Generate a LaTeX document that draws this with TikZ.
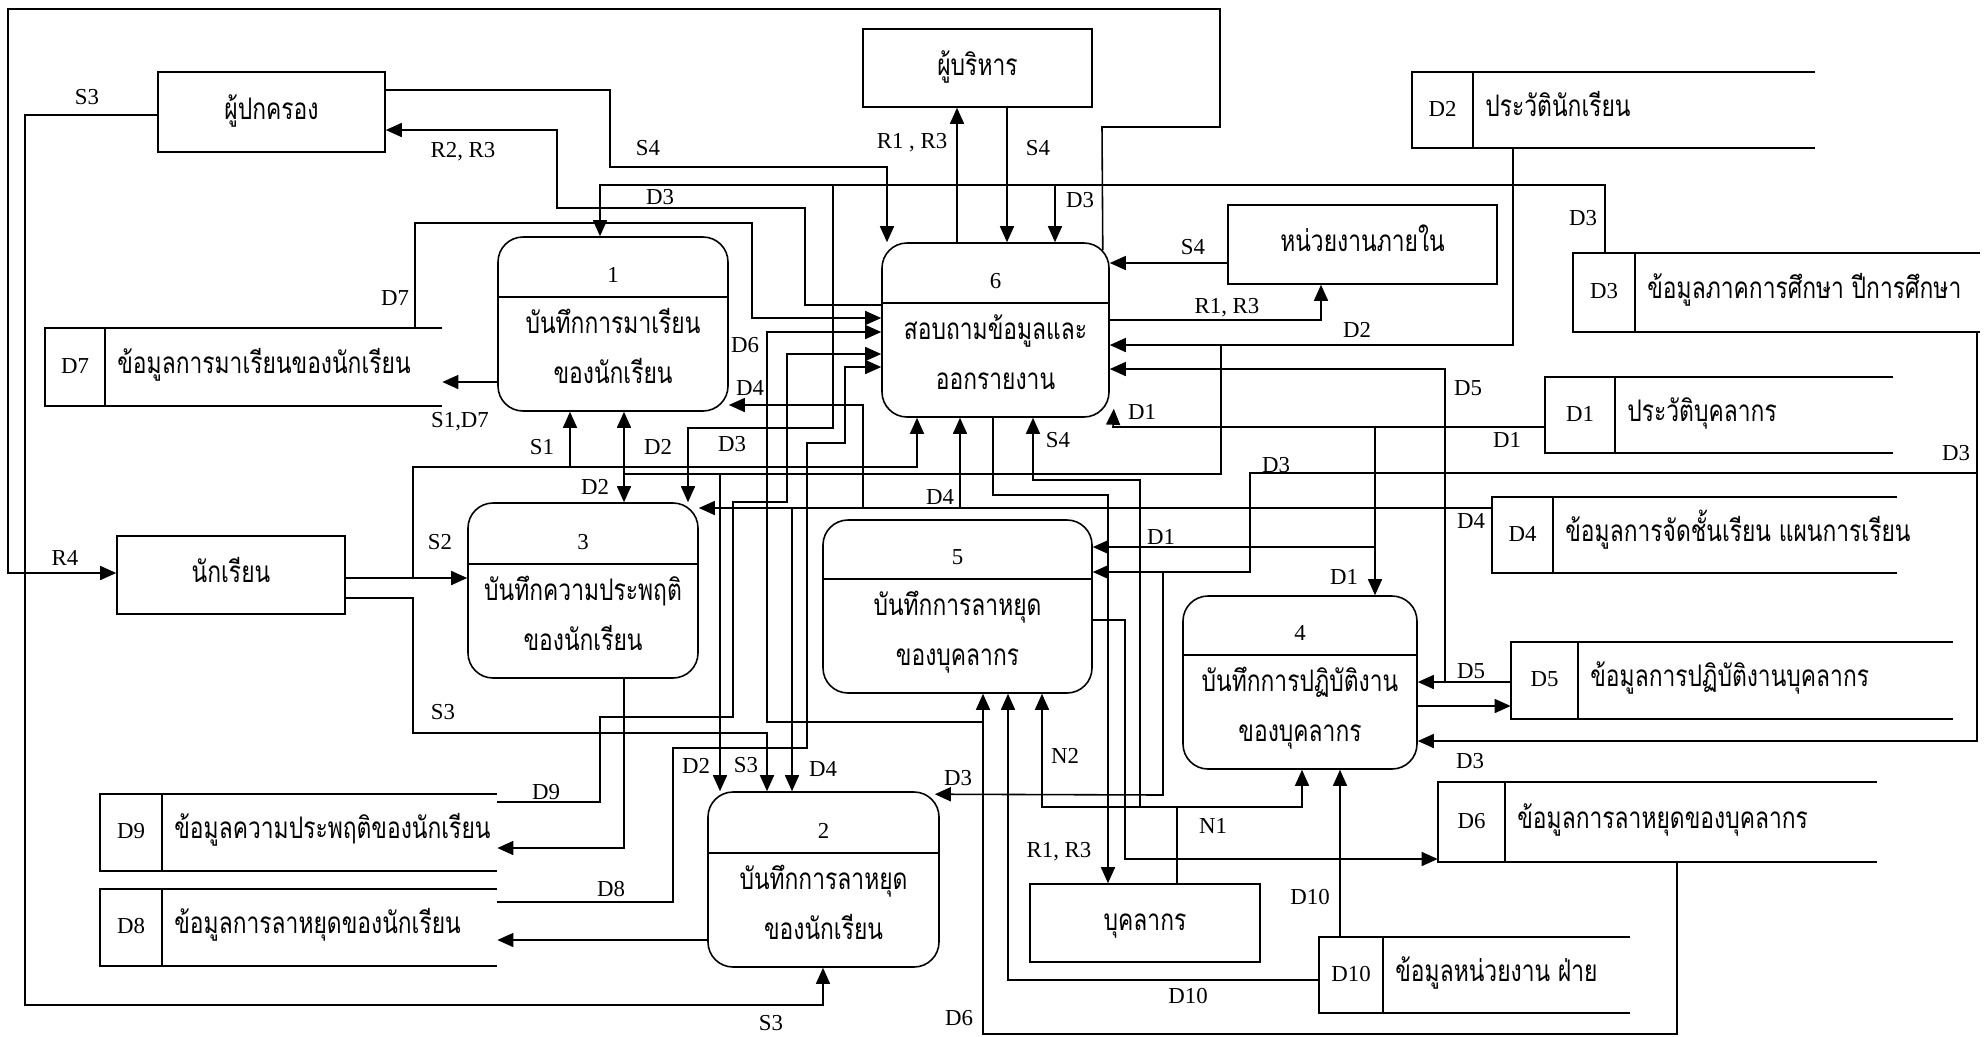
\documentclass[tikz,border=0pt]{standalone}
\usepackage{fontspec}
\setmainfont{Liberation Serif}
\newfontfamily\thaifont[Script=Thai]{Loma}
\usetikzlibrary{arrows.meta, fit, calc}
\tikzset{
  flow/.style={-{Triangle[length=3.2mm, width=2.8mm]}, line width=0.9pt},
  flowboth/.style={{Triangle[length=3.2mm, width=2.8mm]}-{Triangle[length=3.2mm, width=2.8mm]}, line width=0.9pt},
  plain/.style={line width=0.9pt},
  entity/.style={draw, line width=0.9pt, inner sep=0pt},
  proc/.style={draw, line width=0.9pt, rounded corners=5mm, inner sep=0pt},
  lbl/.style={inner sep=1pt, font=\fontsize{13}{15}\selectfont},
  thbase/.style={anchor=base, inner sep=0pt, font=\fontsize{13}{15}\selectfont}
}
% Thai text, a little taller than Loma sets it
\newcommand{\thai}[1]{\scalebox{1}[1.3]{\thaifont #1}}
% process: name, left, top, right, bottom, divider y, number, line 1, line 2
\newcommand{\dproc}[9]{%
  \node[proc, fit={(#2,#3) (#4,#5)}] (#1) {};
  \draw[plain] (#2,#6) -- (#4,#6);
  \node[thbase] (#1-num) at ({(#2+#4)/2},{#6-15}) {#7};
  \node[thbase] (#1-txt) at ({(#2+#4)/2},{#6+36}) {\thai{#8}};
  \node[thbase] (#1-txtb) at ({(#2+#4)/2},{#6+86}) {\thai{#9}};
}
% data store: name, left, divider x, right, top, bottom, id, text
\newcommand{\dstore}[8]{%
  \node[fit={(#2,#5) (#4,#6)}, inner sep=0pt] (#1) {};
  \draw[plain] (#4,#5) -- (#2,#5) -- (#2,#6) -- (#4,#6);
  \draw[plain] (#3,#5) -- (#3,#6);
  \node[thbase] (#1-id) at ({(#2+#3)/2},{(#5+#6)/2+6}) {#7};
  \node[thbase, anchor=base west] (#1-txt) at ({#3+12},{(#5+#6)/2+6}) {\thai{#8}};
}

\begin{document}
\begin{tikzpicture}[x=0.02cm, y=-0.02cm]
  \useasboundingbox (0,0) rectangle (1985,1036);

  %% --- external entities ---
  \node[entity, fit={(158,72) (385,152)}]   (par) {};
  \node[entity, fit={(863,29) (1092,107)}]  (exe) {};
  \node[entity, fit={(1228,205) (1497,284)}] (inu) {};
  \node[entity, fit={(117,536) (345,614)}]  (std) {};
  \node[entity, fit={(1030,884) (1260,962)}] (per) {};
  \node[thbase] (par-txt) at ($(par.center)+(0,7)$) {\thai{ผู้ปกครอง}};
  \node[thbase] (exe-txt) at ($(exe.center)+(0,7)$) {\thai{ผู้บริหาร}};
  \node[thbase] (inu-txt) at ($(inu.center)+(0,7)$) {\thai{หน่วยงานภายใน}};
  \node[thbase] (std-txt) at ($(std.center)+(0,7)$) {\thai{นักเรียน}};
  \node[thbase] (per-txt) at ($(per.center)+(0,7)$) {\thai{บุคลากร}};

  %% --- processes ---
  \dproc{p1}{498}{237}{728}{411}{297}{1}{บันทึกการมาเรียน}{ของนักเรียน}
  \dproc{p6}{882}{243}{1109}{417}{303}{6}{สอบถามข้อมูลและ}{ออกรายงาน}
  \dproc{p3}{468}{503}{698}{678}{564}{3}{บันทึกความประพฤติ}{ของนักเรียน}
  \dproc{p5}{823}{520}{1092}{693}{579}{5}{บันทึกการลาหยุด}{ของบุคลากร}
  \dproc{p4}{1183}{596}{1417}{769}{655}{4}{บันทึกการปฏิบัติงาน}{ของบุคลากร}
  \dproc{p2}{708}{792}{939}{967}{853}{2}{บันทึกการลาหยุด}{ของนักเรียน}

  %% --- data stores ---
  \dstore{d7}{45}{105}{442}{328}{406}{D7}{ข้อมูลการมาเรียนของนักเรียน}
  \dstore{d2}{1412}{1473}{1815}{72}{148}{D2}{ประวัตินักเรียน}
  \dstore{d3}{1573}{1635}{1980}{253}{332}{D3}{ข้อมูลภาคการศึกษา ปีการศึกษา}
  \dstore{d1}{1545}{1615}{1893}{377}{453}{D1}{ประวัติบุคลากร}
  \dstore{d4}{1492}{1553}{1897}{497}{573}{D4}{ข้อมูลการจัดชั้นเรียน แผนการเรียน}
  \dstore{d5}{1511}{1578}{1953}{642}{719}{D5}{ข้อมูลการปฏิบัติงานบุคลากร}
  \dstore{d6}{1438}{1505}{1877}{782}{862}{D6}{ข้อมูลการลาหยุดของบุคลากร}
  \dstore{d10}{1319}{1383}{1630}{937}{1013}{D10}{ข้อมูลหน่วยงาน ฝ่าย}
  \dstore{d9}{100}{162}{497}{794}{871}{D9}{ข้อมูลความประพฤติของนักเรียน}
  \dstore{d8}{100}{162}{497}{889}{966}{D8}{ข้อมูลการลาหยุดของนักเรียน}

  %% --- flows of the parent ---
  \draw[flow] (par.west |- 0,115) -- (25,115) -- (25,1005) -- (823,1005) -- (p2.south -| 823,0);
  \draw[flow] (par.east |- 0,90) -- (610,90) -- (610,167) -- (887,167) -- (p6.north -| 887,0);
  \draw[flow] (p6.west |- 0,305) -- (805,305) -- (805,208) -- (557,208) -- (557,130) -- (par.east |- 0,130);

  % report to the student, round the whole page
  \draw[flow] ($(p6.north east)+(-7,8)$) -- (1102,127) -- (1220,127) -- (1220,9) -- (8,9) -- (8,573) -- (std.west |- 0,573);

  %% --- executives and internal units ---
  \draw[flow] (p6.north -| 957,0) -- (exe.south -| 957,0);
  \draw[flow] (exe.south -| 1007,0) -- (p6.north -| 1007,0);
  \draw[flow] (inu.west |- 0,263) -- (p6.east |- 0,263);
  \draw[flow] (p6.east |- 0,320) -- (1321,320) -- (inu.south -| 1321,0);

  %% --- D3 from the top ---
  \draw[flow] (d3.north -| 1605,0) -- (1605,185) -- (600,185) -- (p1.north -| 600,0);
  \coordinate (j3a) at (1055,185);
  \draw[flow] (j3a) -- (p6.north -| j3a);
  \coordinate (j3b) at (833,185);
  \draw[flow] (j3b) -- (833,428) -- (688,428) -- (p3.north -| 688,0);

  %% --- D7, D2 ---
  \draw[flow] (d7.north -| 415,0) -- (415,223) -- (752,223) -- (752,318) -- (p6.west |- 0,318);
  \draw[flow] (p1.west |- 0,382) -- (d7.east |- 0,382);
  \draw[flow] (d2.south -| 1513,0) -- (1513,345) -- (p6.east |- 0,345);
  \coordinate (j2a) at (1221,345);
  \draw[plain] (j2a) -- (1221,474) -- (624,474);
  \draw[flowboth] (p1.south -| 624,0) -- (p3.north -| 624,0);
  \coordinate (j2b) at (720,474);
  \draw[flow] (j2b) -- (p2.north -| j2b);

  %% --- student ---
  \draw[flow] (std.east |- 0,578) -- (p3.west |- 0,578);
  \coordinate (js1) at (413,578);
  \draw[flow] (js1) -- (413,467) -- (917,467) -- (p6.south -| 917,0);
  \coordinate (js2) at (570,467);
  \draw[flow] (js2) -- (p1.south -| js2);
  \draw[flow] (std.east |- 0,598) -- (413,598) -- (413,733) -- (767,733) -- (p2.north -| 767,0);

  %% --- D4 ---
  \draw[flow] (d4.west |- 0,508) -- (p3.east |- 0,508);
  \coordinate (j4a) at (863,508);
  \draw[flow] (j4a) -- (863,405) -- (p1.east |- 0,405);
  \coordinate (j4b) at (960,508);
  \draw[flow] (j4b) -- (p6.south -| j4b);
  \coordinate (j4c) at (792,508);
  \draw[flow] (j4c) -- (p2.north -| j4c);

  %% --- D6, D9, D8 ---
  \draw[flow] (d6.south -| 1677,0) -- (1677,1034) -- (983,1034) -- (p5.south -| 983,0);
  \coordinate (j6a) at (983,722);
  \draw[flow] (j6a) -- (767,722) -- (767,332) -- (p6.west |- 0,332);
  \draw[flow] (d9.east |- 0,802) -- (600,802) -- (600,717) -- (733,717) -- (733,502) -- (787,502) -- (787,354) -- (p6.west |- 0,354);
  \draw[flow] (d8.east |- 0,902) -- (673,902) -- (673,748) -- (807,748) -- (807,443) -- (845,443) -- (845,367) -- (p6.west |- 0,367);
  \draw[flow] (p3.south -| 624,0) -- (624,848) -- (d9.east |- 0,848);
  \draw[flow] (p2.west |- 0,940) -- (d8.east |- 0,940);

  %% --- D1 ---
  \draw[flow] (d1.west |- 0,427) -- (1113,427) -- ($(p6.south east)+(4,-9)$);
  \coordinate (j1a) at (1375,427);
  \draw[flow] (j1a) -- (p4.north -| j1a);
  \coordinate (j1b) at (1375,547);
  \draw[flow] (j1b) -- (p5.east |- j1b);

  %% --- D3 on the right ---
  \draw[flow] (d3.south -| 1977,0) -- (1977,741) -- (p4.east |- 0,741);
  \coordinate (j3c) at (1977,473);
  \draw[flow] (j3c) -- (1250,473) -- (1250,572) -- (p5.east |- 0,572);
  \coordinate (j3d) at (1163,572);
  \draw[flow] (j3d) -- (1163,795) -- ($(p2.north east)+(-5,3)$);

  %% --- D5 ---
  \draw[flow] (d5.west |- 0,682) -- (p4.east |- 0,682);
  \coordinate (j5a) at (1445,682);
  \draw[flow] (j5a) -- (1445,369) -- (p6.east |- 0,369);
  \draw[flow] (p4.east |- 0,706) -- (d5.west |- 0,706);

  %% --- personnel ---
  \draw[flow] (per.north -| 1177,0) -- (1177,807) -- (1140,807) -- (1140,480) -- (1033,480) -- (p6.south -| 1033,0);
  \coordinate (jn1) at (1177,807);
  \draw[flow] (jn1) -- (1302,807) -- (p4.south -| 1302,0);
  \coordinate (jn2) at (1140,807);
  \draw[flow] (jn2) -- (1042,807) -- (p5.south -| 1042,0);
  \draw[flow] (p6.south -| 993,0) -- (993,495) -- (1108,495) -- (per.north -| 1108,0);
  \draw[flow] (p5.east |- 0,620) -- (1125,620) -- (1125,859) -- (d6.west |- 0,859);

  %% --- D10 ---
  \draw[flow] (d10.west |- 0,980) -- (1008,980) -- (p5.south -| 1008,0);
  \draw[flow] (d10.north -| 1340,0) -- (p4.south -| 1340,0);

  %% --- labels ---
  \node[lbl] (lS3a) at (87,97) {S3};
  \node[lbl] (lR2)  at (463,152) {R2, R3};
  \node[lbl] (lS4a) at (648,148) {S4};
  \node[lbl] (lD3a) at (660,197) {D3};
  \node[lbl] (lR1a) at (912,143) {R1 , R3};
  \node[lbl] (lS4b) at (1038,148) {S4};
  \node[lbl] (lD3b) at (1080,200) {D3};
  \node[lbl] (lD3c) at (1583,218) {D3};
  \node[lbl] (lS4c) at (1193,247) {S4};
  \node[lbl] (lR1b) at (1227,308) {R1, R3};
  \node[lbl] (lD2a) at (1357,330) {D2};
  \node[lbl] (lD7)  at (395,298) {D7};
  \node[lbl] (lD6a) at (745,345) {D6};
  \node[lbl] (lD4a) at (750,388) {D4};
  \node[lbl] (lS1D7) at (460,422) {S1,D7};
  \node[lbl] (lS1)  at (542,447) {S1};
  \node[lbl] (lD2b) at (658,447) {D2};
  \node[lbl] (lD3d) at (732,444) {D3};
  \node[lbl] (lD2c) at (595,487) {D2};
  \node[lbl] (lD1a) at (1142,412) {D1};
  \node[lbl] (lD5a) at (1468,388) {D5};
  \node[lbl] (lS4d) at (1058,440) {S4};
  \node[lbl] (lD1b) at (1507,440) {D1};
  \node[lbl] (lD3e) at (1956,453) {D3};
  \node[lbl] (lD3f) at (1276,465) {D3};
  \node[lbl] (lD4b) at (940,497) {D4};
  \node[lbl] (lD4c) at (1471,521) {D4};
  \node[lbl] (lD1c) at (1161,537) {D1};
  \node[lbl] (lD1d) at (1344,577) {D1};
  \node[lbl] (lR4)  at (65,558) {R4};
  \node[lbl] (lS2)  at (440,542) {S2};
  \node[lbl] (lS3b) at (443,712) {S3};
  \node[lbl] (lD5b) at (1471,671) {D5};
  \node[lbl] (lD3g) at (1470,761) {D3};
  \node[lbl] (lD2d) at (696,766) {D2};
  \node[lbl] (lS3c) at (746,765) {S3};
  \node[lbl] (lD4d) at (823,769) {D4};
  \node[lbl] (lD3h) at (958,778) {D3};
  \node[lbl] (lN2)  at (1065,756) {N2};
  \node[lbl] (lD9)  at (546,792) {D9};
  \node[lbl] (lN1)  at (1213,826) {N1};
  \node[lbl] (lR1c) at (1059,852) {R1, R3};
  \node[lbl] (lD8)  at (611,889) {D8};
  \node[lbl] (lD10a) at (1310,897) {D10};
  \node[lbl] (lD10b) at (1188,996) {D10};
  \node[lbl] (lS3d) at (771,1023) {S3};
  \node[lbl] (lD6b) at (959,1018) {D6};
\end{tikzpicture}
\end{document}
